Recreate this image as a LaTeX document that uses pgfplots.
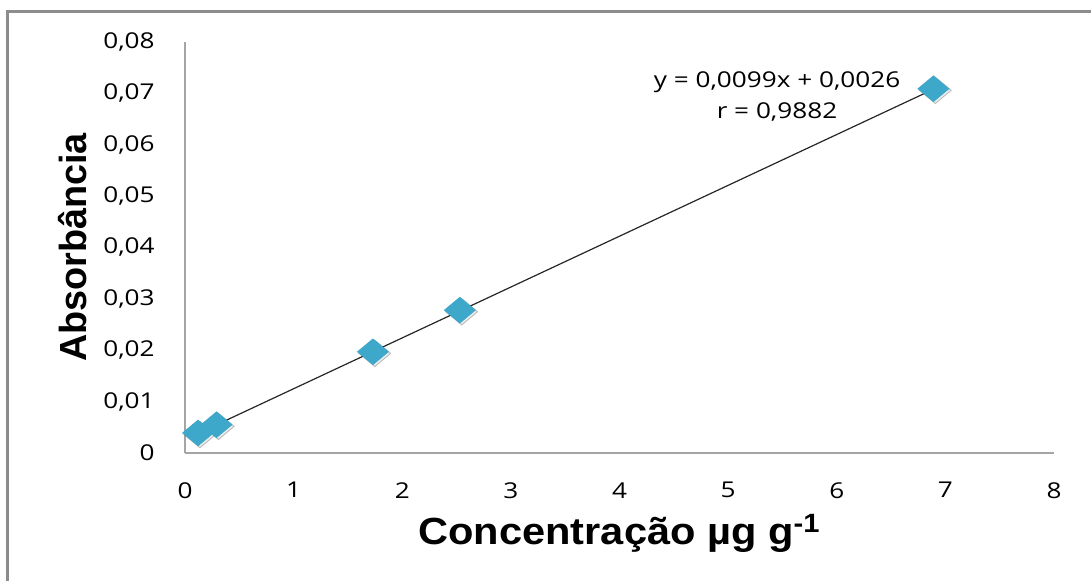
\documentclass[border=0pt]{standalone}
\usepackage{fontspec}
\usepackage{pgfplots}
\pgfplotsset{compat=1.18}
\setmainfont[FakeStretch=1.2]{Open Sans}
\newfontfamily\labfont[FakeStretch=1.1]{Liberation Sans}
\newfontfamily\ylabfont{Liberation Sans}
\definecolor{mk}{RGB}{62,168,202}
\definecolor{axgray}{RGB}{165,165,165}
\definecolor{framegray}{RGB}{140,140,140}
\begin{document}
\begin{tikzpicture}
\useasboundingbox (-92.5pt,-64pt) rectangle (453pt,226.5pt);
\draw[framegray, line width=1.25pt] (-88.75pt,-64pt) -- (-88.75pt,220.85pt) -- (453pt,220.85pt);
\begin{axis}[
  scale only axis,
  width=434.5pt, height=205.5pt,
  xmin=0, xmax=8, ymin=0, ymax=0.08,
  axis x line=bottom, axis y line=left,
  axis line style={-, axgray, line width=0.75pt},
  major tick length=0pt,
  scaled y ticks=false,
  xtick={0,1,...,8},
  xticklabels={0,1,2,3,4,5,6,7,8},
  ytick={0,0.01,0.02,0.03,0.04,0.05,0.06,0.07,0.08},
  yticklabels={0,{0,01},{0,02},{0,03},{0,04},{0,05},{0,06},{0,07},{0,08}},
  ticklabel style={font=\fontsize{10.9}{12}\selectfont},
  xticklabel style={anchor=north, inner sep=0pt, yshift=-14.5pt},
  yticklabel style={anchor=east, inner sep=0pt, xshift=-15pt},
  xlabel={\labfont\bfseries Concentração µg g\textsuperscript{-1}},
  ylabel={\ylabfont\bfseries Absorbância},
  xlabel style={at={(axis description cs:0.5,-0.2238)}, anchor=base, font=\fontsize{18.9}{22}\selectfont},
  ylabel style={at={(axis description cs:-0.1139,0.5)}, anchor=base, font=\fontsize{18.9}{22}\selectfont},
  clip=false,
]
% soft shadow under the markers
\addplot[only marks, mark=diamond*, mark size=6.6pt, mark options={xscale=1.6, xshift=0.6pt, yshift=-0.8pt, fill=black!30, draw=none, opacity=0.25}] coordinates {
  (0.12,0.0039) (0.29,0.0055) (1.73,0.0197) (2.53,0.0278) (6.89,0.0709)
};
% data points
\addplot[only marks, mark=diamond*, mark size=6.4pt, mark options={xscale=1.6, fill=mk, draw=mk}] coordinates {
  (0.12,0.0039) (0.29,0.0055) (1.73,0.0197) (2.53,0.0278) (6.89,0.0709)
};
% trendline endpoints
\addplot[black!85, line width=0.6pt] coordinates {(0.12,0.0038) (6.89,0.0708)};
\node[anchor=base, font=\fontsize{10.9}{12}\selectfont] at (axis cs:5.45,0.0712) {y = 0,0099x + 0,0026};
\node[anchor=base, font=\fontsize{10.9}{12}\selectfont] at (axis cs:5.45,0.0652) {r = 0,9882};
\end{axis}
\end{tikzpicture}
\end{document}
